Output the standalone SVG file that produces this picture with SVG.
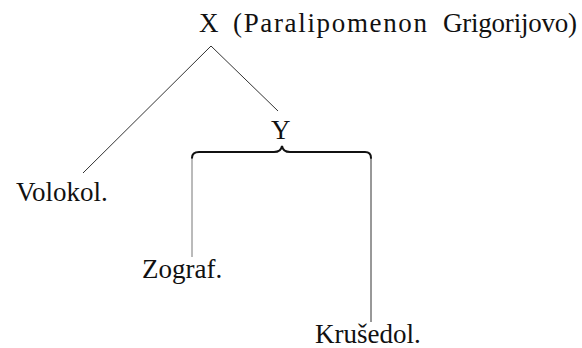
<svg xmlns="http://www.w3.org/2000/svg" width="582" height="348" viewBox="0 0 582 348">
<style>
text{font-family:"Liberation Serif","DejaVu Serif",serif;font-size:27px;fill:#111}
.ln{stroke:#333;stroke-width:1;fill:none}
.lt{stroke:#777;stroke-width:1;fill:none}
.br{stroke:#111;stroke-width:2;fill:none;stroke-linecap:round}
</style>
<rect width="582" height="348" fill="#fff"/>
<g id="connectors">
<line class="ln" x1="211" y1="46" x2="83" y2="173"/>
<line class="ln" x1="211" y1="46" x2="278" y2="111"/>
<path class="br" d="M192,158 Q192,152 199,152 L274,152 Q281,152 282,146 Q283,152 290,152 L365,152 Q371,152 371,158"/>
<line class="lt" x1="192" y1="158" x2="192" y2="257"/>
<line class="ln" x1="371" y1="158" x2="371" y2="322"/>
</g>
<g id="X"><text y="32"><tspan x="199">X</tspan><tspan x="233" textLength="194" lengthAdjust="spacing">(Paralipomenon</tspan><tspan x="443" textLength="134" lengthAdjust="spacing">Grigorijovo)</tspan></text></g>
<g id="Y"><text x="271" y="139">Y</text></g>
<g id="Volokol"><text x="16" y="201">Volokol.</text></g>
<g id="Zograf"><text x="142" y="278">Zograf.</text></g>
<g id="Krusedol"><text x="315" y="343">Krušedol.</text></g>
</svg>
